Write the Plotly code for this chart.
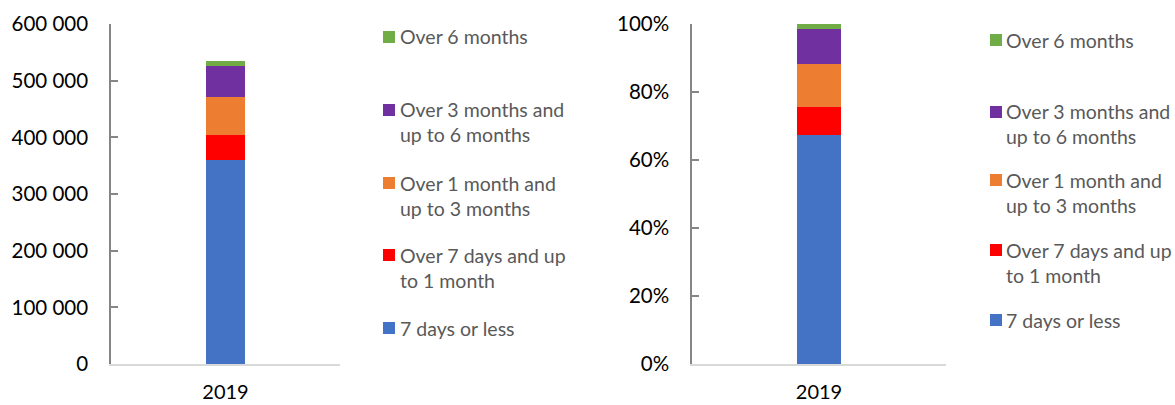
import plotly.graph_objects as go

# ---- data ----
categories = ["2019"]
series_names = [
    "7 days or less",
    "Over 7 days and up to 1 month",
    "Over 1 month and up to 3 months",
    "Over 3 months and up to 6 months",
    "Over 6 months",
]
legend_labels = [
    "7 days or less",
    "Over 7 days and up<br>to 1 month",
    "Over 1 month and<br>up to 3 months",
    "Over 3 months and<br>up to 6 months",
    "Over 6 months",
]
colors = ["#4472C4", "#FF0000", "#ED7D31", "#7030A0", "#70AD47"]

counts_2019 = [360500, 43600, 67000, 54700, 8800]
shares_2019 = [67.5, 8.1, 12.7, 10.2, 1.5]

left_tickvals = [0, 100000, 200000, 300000, 400000, 500000, 600000]
left_ticktext = ["0", "100 000", "200 000", "300 000", "400 000", "500 000", "600 000"]
right_tickvals = [0, 20, 40, 60, 80, 100]
right_ticktext = ["0%", "20%", "40%", "60%", "80%", "100%"]

# ---- layout constants ----
W, H = 1175, 405
T = 24                       # plot top, page px
B = H - 364                  # plot bottom at page px 364
PH = H - T - B
FONT = "Lato"
TICK_COLOR = "#000000"
LEG_COLOR = "#595959"


def px_x(x):
    return x / W


def px_y(y):
    return (364 - y) / PH


fig = go.Figure()

for i, name in enumerate(series_names):
    fig.add_trace(go.Bar(
        x=categories, y=[counts_2019[i]], name=name,
        marker=dict(color=colors[i], line=dict(width=0)),
        width=0.17, xaxis="x", yaxis="y", showlegend=False,
    ))
    fig.add_trace(go.Bar(
        x=categories, y=[shares_2019[i]], name=name,
        marker=dict(color=colors[i], line=dict(width=0)),
        width=0.17, xaxis="x2", yaxis="y2", showlegend=False,
    ))

common_x = dict(
    type="category", showline=True, linecolor="#D9D9D9", linewidth=2,
    ticks="", showgrid=False, zeroline=False, automargin=False,
    tickfont=dict(family=FONT, size=20, color=TICK_COLOR),
    ticklabelstandoff=9, range=[-0.5, 0.5],
)
common_y = dict(
    showline=True, linecolor="#868686", linewidth=1.5,
    ticks="inside", ticklen=7, tickcolor="#868686", tickwidth=1.5,
    showgrid=False, zeroline=False, automargin=False,
    tickfont=dict(family=FONT, size=20.5, color=TICK_COLOR),
    ticklabelstandoff=17,
)

fig.update_layout(
    width=W, height=H,
    margin=dict(l=0, r=0, t=T, b=B, autoexpand=False),
    paper_bgcolor="white", plot_bgcolor="white",
    barmode="stack", bargap=0,
    xaxis=dict(domain=[px_x(111), px_x(340)], anchor="y", **common_x),
    yaxis=dict(domain=[0, 1], anchor="x", range=[0, 600000],
               tickvals=left_tickvals, ticktext=left_ticktext, **common_y),
    xaxis2=dict(domain=[px_x(692), px_x(946)], anchor="y2", **common_x),
    yaxis2=dict(domain=[0, 1], anchor="x2", range=[0, 100],
                tickvals=right_tickvals, ticktext=right_ticktext, **common_y),
)

# ---- manual legends (top to bottom: reverse of stacking order) ----
legend_specs = [
    # (square left x, text left x, first-line centre y for each item top->bottom), page px
    (383, 399, [37, 110, 183, 255, 328]),
    (990, 1005, [40, 112, 180, 250, 320]),
]
LINE_H = 25
for sq_x, tx_x, ys in legend_specs:
    order = list(range(len(series_names)))[::-1]
    for k, idx in enumerate(order):
        label = legend_labels[idx]
        nlines = label.count("<br>") + 1
        y0 = ys[k]
        yc = y0 + (nlines - 1) * LINE_H / 2
        fig.add_shape(
            type="rect", xref="paper", yref="paper",
            x0=px_x(sq_x), x1=px_x(sq_x + 12),
            y0=px_y(y0 + 6), y1=px_y(y0 - 6),
            fillcolor=colors[idx], line=dict(width=0),
        )
        fig.add_annotation(
            xref="paper", yref="paper", x=px_x(tx_x), y=px_y(yc),
            xanchor="left", yanchor="middle", align="left",
            text=label, showarrow=False, borderpad=0,
            font=dict(family=FONT, size=19.5, color=LEG_COLOR),
        )

fig.write_html(
    "out.html",
    config={"displayModeBar": False},
    post_script="document.body.style.margin='0';document.body.style.overflow='hidden';",
)
